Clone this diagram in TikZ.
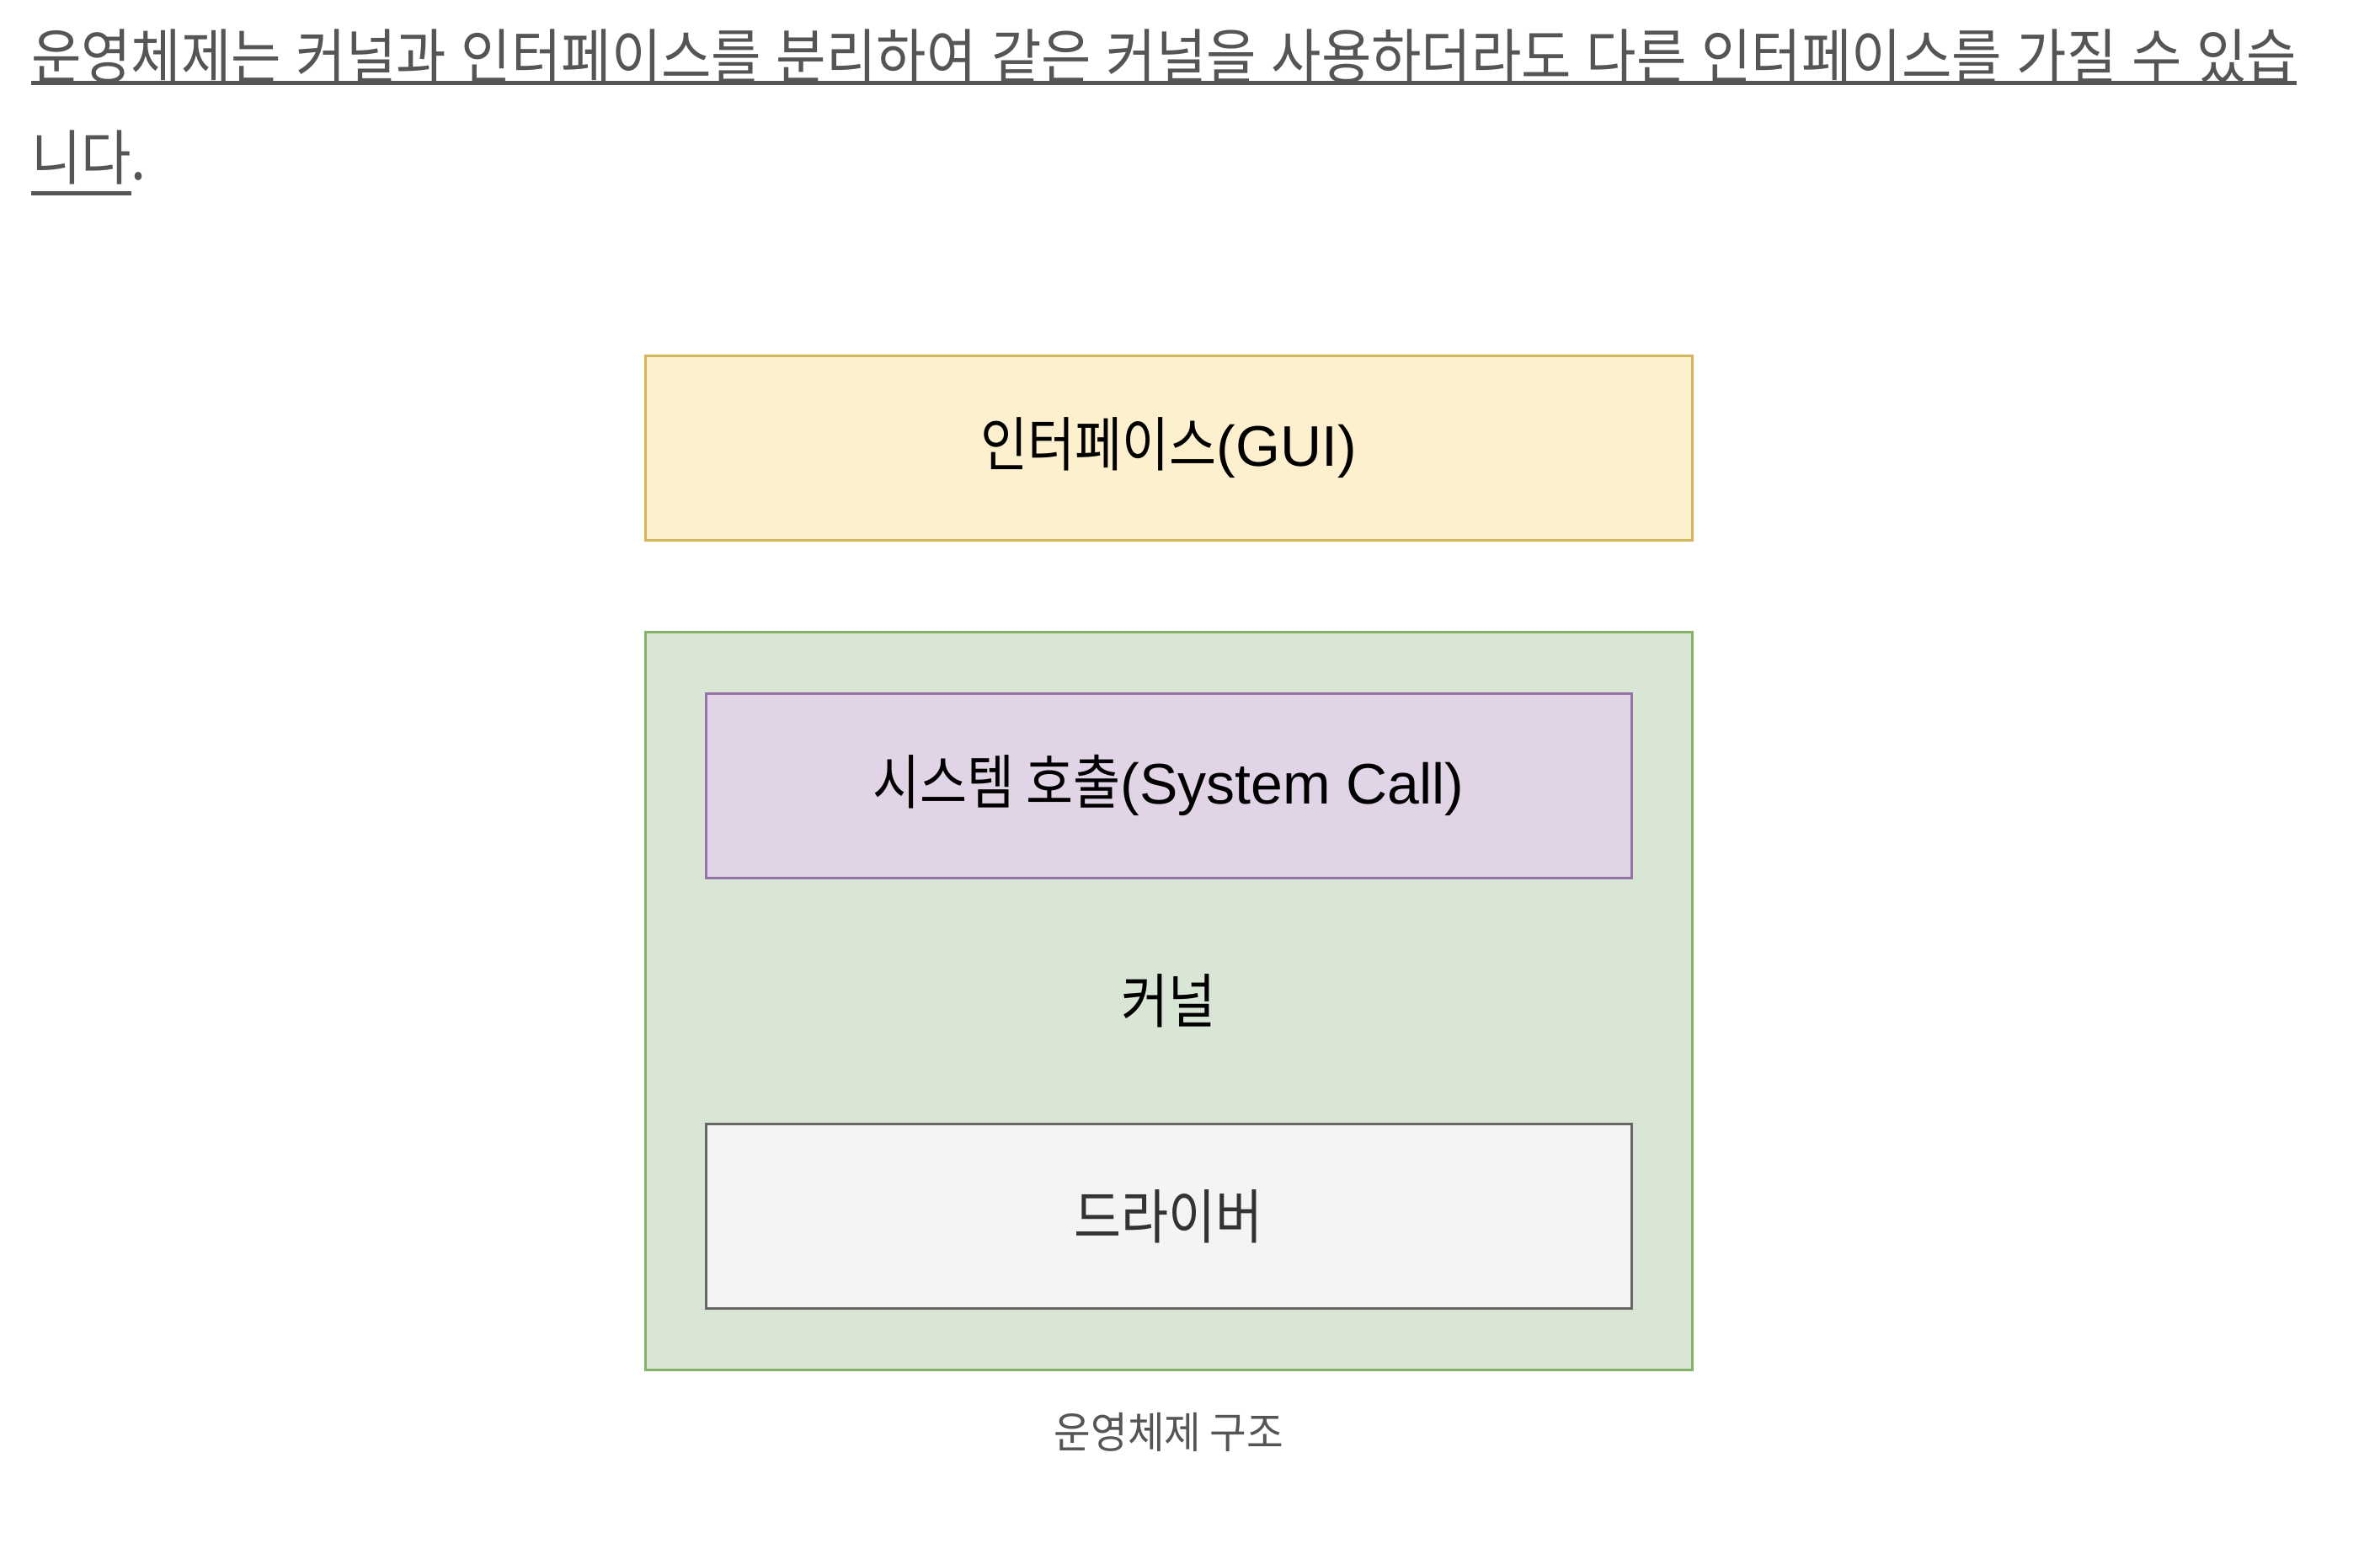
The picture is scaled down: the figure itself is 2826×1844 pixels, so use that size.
\documentclass[tikz,border=0pt]{standalone}
\usepackage{fontspec}
\setmainfont{Liberation Sans}
\newfontfamily\kr[FakeStretch=0.87,Scale=1.03]{Noto Sans CJK KR}
\newfontfamily\krh[FakeStretch=0.91]{Noto Sans CJK KR}
\newfontfamily\krc[FakeStretch=0.93]{Noto Sans CJK KR}
\definecolor{hdrgray}{HTML}{555555}
\definecolor{capgray}{HTML}{555555}
\definecolor{yfill}{HTML}{FCF0CF}
\definecolor{ydraw}{HTML}{D6B656}
\definecolor{gfill}{HTML}{D9E6D5}
\definecolor{gdraw}{HTML}{82B366}
\definecolor{pfill}{HTML}{E1D4E6}
\definecolor{pdraw}{HTML}{9673A6}
\definecolor{dfill}{HTML}{F4F4F4}
\definecolor{ddraw}{HTML}{666666}
\definecolor{dtext}{HTML}{333333}
\begin{document}
\begin{tikzpicture}[x=0.25pt,y=-0.25pt,
  hdr/.style={inner sep=0pt,outer sep=0pt,anchor=base west,text=hdrgray,font=\krh\fontsize{17.75}{20}\selectfont},
  uline/.style={draw=hdrgray,line width=1.1pt},
  box/.style={draw,line width=0.75pt,inner sep=0pt,outer sep=0pt,font=\fontsize{17}{20}\selectfont,text=black},
  widebox/.style={box,minimum width=310.75pt,minimum height=54.75pt},
  innerbox/.style={box,minimum width=274.75pt,minimum height=54.75pt}
]
\useasboundingbox[fill=white] (0,0) rectangle (2826,1844);
% header text
\node[hdr] (h1) at (37,93) {\makebox[672.5pt][s]{운영체제는 커널과 인터페이스를 분리하여 같은 커널을 사용하더라도 다른 인터페이스를 가질 수 있습}};
\draw[uline] ([yshift=-1.4pt]h1.base west) -- ([yshift=-1.4pt]h1.base east);
\node[hdr] (h2) at (37,213) {니다};
\node[hdr] (h2dot) at (h2.base east) {.};
\draw[uline] ([yshift=-4.1pt]h2.base west) -- ([yshift=-4.1pt]h2.base east);
% boxes
\node[widebox,fill=yfill,draw=ydraw] (gui) at (1387.5,531.5) {{\kr 인터페이스}(GUI)};
\node[box,fill=gfill,draw=gdraw,minimum width=310.75pt,minimum height=219pt] (kernel) at (1387.5,1188) {{\kr 커널}};
\node[innerbox,fill=pfill,draw=pdraw] (syscall) at (1387.5,932.5) {{\kr 시스템 호출}(System Call)};
\node[innerbox,fill=dfill,draw=ddraw,text=dtext] (driver) at (1387.5,1444) {{\kr 드라이버}};
% caption
\node[inner sep=0pt,text=capgray,font=\krc\fontsize{12.75}{15}\selectfont] (cap) at (1388,1700) {운영체제 구조};
\end{tikzpicture}
\end{document}
